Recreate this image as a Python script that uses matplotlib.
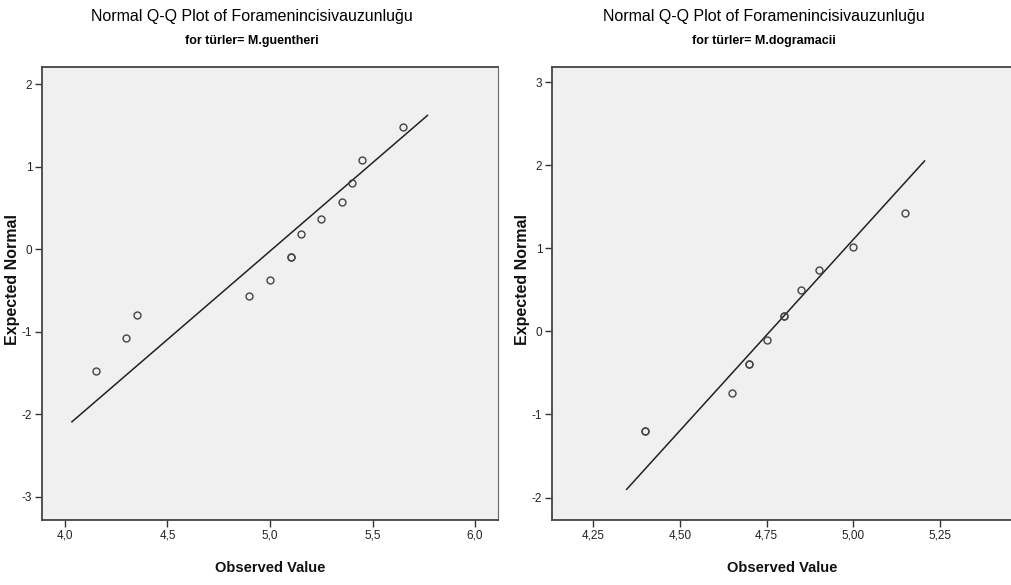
import matplotlib
matplotlib.use("Agg")
import matplotlib.pyplot as plt
from matplotlib.ticker import FuncFormatter

# Data
title = "Normal Q-Q Plot of Foramenincisivauzunluğu"

guen_label = "for türler= M.guentheri"
guen_obs = [4.15, 4.30, 4.35, 4.90, 5.00, 5.10, 5.10, 5.15, 5.25, 5.35, 5.40, 5.45, 5.65]
guen_exp = [-1.47, -1.08, -0.80, -0.57, -0.37, -0.09, -0.09, 0.18, 0.37, 0.57, 0.80, 1.08, 1.48]
guen_line_x = [4.034, 5.768]
guen_line_y = [-2.09, 1.62]
guen_xticks = [4.0, 4.5, 5.0, 5.5, 6.0]
guen_yticks = [-3, -2, -1, 0, 1, 2]

dogr_label = "for türler= M.dogramacii"
dogr_obs = [4.40, 4.40, 4.65, 4.70, 4.70, 4.75, 4.80, 4.80, 4.85, 4.90, 5.00, 5.15]
dogr_exp = [-1.20, -1.20, -0.74, -0.39, -0.39, -0.10, 0.19, 0.19, 0.50, 0.74, 1.02, 1.43]
dogr_line_x = [4.347, 5.205]
dogr_line_y = [-1.90, 2.05]
dogr_xticks = [4.25, 4.50, 4.75, 5.00, 5.25]
dogr_yticks = [-2, -1, 0, 1, 2, 3]

fam = ["Liberation Sans", "DejaVu Sans"]


def comma_fmt(decimals):
    return FuncFormatter(lambda v, p: f"{v:.{decimals}f}".replace(".", ","))


fig = plt.figure(figsize=(10.12, 5.85), dpi=100)

panels = [
    (guen_label, guen_obs, guen_exp, guen_line_x, guen_line_y, guen_xticks, guen_yticks,
     [0.0415, 0.111, 0.4506, 0.7744], (3.888, 6.112), (-3.28, 2.206), 1, True, -0.049),
    (dogr_label, dogr_obs, dogr_exp, dogr_line_x, dogr_line_y, dogr_xticks, dogr_yticks,
     [0.5455, 0.111, 0.4545, 0.7744], (4.132, 5.457), (-2.27, 3.18), 2, False, -0.049),
]

for (sub, xs, ys, lx, ly, xt, yt, rect, xlim, ylim, dec, right_spine, ylab_x) in panels:
    ax = fig.add_axes(rect)
    ax.set_facecolor("#f0f0f0")
    ax.plot(lx, ly, color="#222222", lw=1.1, zorder=2)
    ax.plot(xs, ys, "o", ms=5, mfc="none", mec="#444444", mew=1.0, ls="none", zorder=3)
    ax.set_xlim(*xlim)
    ax.set_ylim(*ylim)
    ax.set_xticks(xt)
    ax.set_yticks(yt)
    ax.xaxis.set_major_formatter(comma_fmt(dec))
    ax.yaxis.set_major_formatter(FuncFormatter(lambda v, p: f"{v:.0f}"))
    ax.tick_params(direction="out", length=5, width=1, color="#333333",
                   labelsize=8.5, labelcolor="#222222", pad=2)
    for lab in ax.get_xticklabels() + ax.get_yticklabels():
        lab.set_family(fam)
    for side in ["left", "bottom", "top"]:
        ax.spines[side].set_color("#444444")
        ax.spines[side].set_linewidth(1.3)
    ax.spines["right"].set_visible(right_spine)
    ax.spines["right"].set_color("#666666")

    ax.set_xlabel("Observed Value", family=fam, fontweight="bold", fontsize=10.5,
                  labelpad=14, color="#111111")
    ax.set_ylabel("Expected Normal", family=fam, fontweight="bold", fontsize=11.5,
                  color="#111111")
    ax.yaxis.set_label_coords(ylab_x, 0.53)
    ax.text(0.46, 1.045, sub, transform=ax.transAxes,
            ha="center", va="bottom", family=fam, fontweight="bold", fontsize=9)
    ax.text(0.46, 1.095, title, transform=ax.transAxes,
            ha="center", va="bottom", family=fam, fontsize=11.5)

fig.savefig("out.png", dpi=100, facecolor="white")
